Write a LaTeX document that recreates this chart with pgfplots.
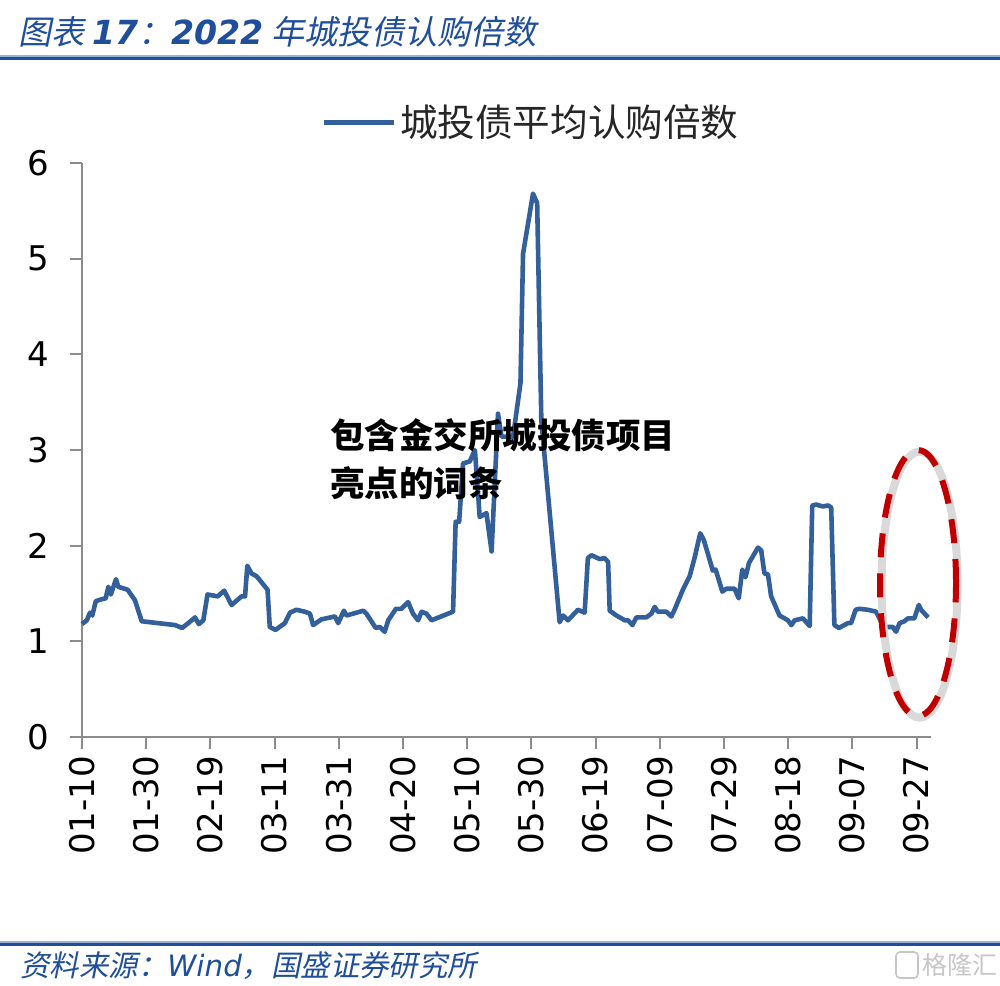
\documentclass[border=0pt]{standalone}
\usepackage{pgfplots}
\pgfplotsset{compat=1.18}
\usepackage{pgfplotstable}
\usepackage{fontspec}
\setmainfont{DejaVu Sans}
\newfontfamily\cjk{Noto Sans CJK SC}
\newfontfamily\cjkit{Noto Sans CJK SC}[FakeSlant=0.2]
\newfontfamily\dejavu{DejaVu Sans}
\definecolor{linebl}{HTML}{33609A}
\definecolor{titlebl}{HTML}{1F4E9A}
\definecolor{axgray}{HTML}{8C8C8C}
\definecolor{ellred}{HTML}{C00000}

% day 0 = 01-10
\pgfplotstableread{
day val
0 1.18
1.5 1.22
2.5 1.30
3.2 1.27
4.3 1.42
6.1 1.44
7.4 1.45
8.2 1.57
9.0 1.49
10.6 1.65
11.3 1.57
14.2 1.54
16.5 1.43
18.6 1.21
29.0 1.17
31.2 1.14
33.1 1.19
35.2 1.25
36.4 1.18
37.8 1.22
39.1 1.49
42.3 1.47
44.3 1.53
46.6 1.38
49.7 1.47
50.8 1.47
51.5 1.79
52.8 1.71
54.4 1.68
57.8 1.54
58.5 1.15
60.3 1.12
63.2 1.19
64.8 1.30
66.8 1.33
69.4 1.31
71.0 1.29
72.0 1.17
74.6 1.23
78.8 1.26
79.8 1.19
81.6 1.32
82.4 1.27
87.6 1.32
88.6 1.29
91.5 1.14
92.8 1.15
94.3 1.10
95.4 1.22
97.8 1.34
99.5 1.34
101.6 1.41
103.1 1.29
104.7 1.22
105.8 1.31
107.3 1.29
108.9 1.22
115.6 1.31
116.4 2.25
117.5 2.25
118.7 2.86
120.8 2.88
122.4 3.00
123.9 2.30
126.0 2.34
127.6 1.94
129.6 3.38
130.7 3.14
134.3 3.14
136.6 3.70
137.4 5.05
140.5 5.68
141.8 5.58
143.1 3.31
148.8 1.20
149.9 1.27
151.4 1.22
154.5 1.33
156.6 1.30
157.6 1.87
158.7 1.90
161.3 1.86
162.8 1.87
163.9 1.83
164.4 1.32
166.5 1.27
169.1 1.22
170.1 1.22
171.5 1.17
172.7 1.25
175.8 1.25
177.4 1.29
178.4 1.36
179.4 1.31
182.0 1.31
183.6 1.26
184.6 1.33
187.2 1.54
189.3 1.68
190.9 1.88
192.6 2.13
193.7 2.06
195.3 1.88
196.5 1.74
197.4 1.75
199.5 1.52
200.7 1.55
203.3 1.55
204.6 1.45
205.7 1.75
206.7 1.67
207.8 1.82
210.6 1.98
211.6 1.95
212.6 1.71
213.7 1.70
214.7 1.47
217.3 1.27
218.9 1.24
219.9 1.22
221.0 1.17
222.0 1.22
224.6 1.24
226.7 1.16
227.5 2.42
228.7 2.43
230.8 2.41
232.4 2.42
233.4 2.40
234.4 1.17
235.8 1.14
238.6 1.19
239.6 1.19
241.0 1.33
242.2 1.34
244.8 1.33
247.4 1.31
249.5 1.17
250.5 1.15
252.6 1.15
253.6 1.10
254.7 1.19
256.2 1.21
257.3 1.24
259.3 1.24
260.7 1.38
261.4 1.33
262.5 1.29
263.6 1.25
}\series

\begin{document}
\begin{tikzpicture}
\path[use as bounding box] (0,0) rectangle (500pt,-492.5pt);

% title
\node[anchor=west, text=titlebl, inner sep=0] at (9pt,-16pt)
  {\cjkit\fontsize{16.6pt}{16.6pt}\selectfont 图表 {\dejavu\bfseries\itshape 17}：{\dejavu\bfseries\itshape 2022} 年城投债认购倍数};
\draw[titlebl!45, line width=0.6pt] (0,-28pt) -- (500pt,-28pt);
\draw[titlebl, line width=1.5pt] (0,-29.3pt) -- (500pt,-29.3pt);

\begin{axis}[
  at={(41pt,-368.5pt)}, anchor=south west,
  scale only axis, width=424.5pt, height=287pt,
  xmin=0, xmax=264.5, ymin=0, ymax=6,
  axis x line*=bottom, axis y line*=left,
  axis line style={axgray, line width=1pt},
  tick style={axgray, line width=1pt},
  tick align=outside, major tick length=6pt,
  ytick={0,1,2,3,4,5,6},
  xtick={0,20,40,60,80,100,120,140,160,180,200,220,240,260},
  xticklabels={01-10,01-30,02-19,03-11,03-31,04-20,05-10,05-30,06-19,07-09,07-29,08-18,09-07,09-27},
  xticklabel style={rotate=90, anchor=east, font=\dejavu\fontsize{17pt}{17pt}\selectfont, text=black},
  yticklabel style={font=\dejavu\fontsize{17pt}{17pt}\selectfont, text=black, xshift=-7pt},
  /pgf/number format/assume math mode=true,
  clip=false,
  legend style={at={(0.53,1.071)}, anchor=center, draw=none, fill=none,
    font=\cjk\fontsize{18.8pt}{18.8pt}\selectfont, text=black!85},
  legend image code/.code={\draw[#1] (0pt,0pt) -- (35pt,0pt);},
]
\addplot[linebl, line width=2.3pt, line join=round] table[x=day,y=val] {\series};
\addlegendentry{城投债平均认购倍数}
\end{axis}

% overlay text
\node[anchor=north west, inner sep=0, align=left,
  font=\cjk\bfseries\fontsize{17.25pt}{24pt}\selectfont] at (165pt,-209pt)
  {包含金交所城投债项目\\亮点的词条};

% highlight ellipse
\draw[gray!30, line width=4pt] (459.8pt,-292.3pt) ellipse [x radius=19pt, y radius=66.5pt];
\draw[ellred, line width=3pt, dash pattern=on 12pt off 8pt] (459pt,-291.5pt) ellipse [x radius=19pt, y radius=66.5pt];

% footer
\draw[titlebl!45, line width=0.6pt] (0,-471pt) -- (500pt,-471pt);
\draw[titlebl, line width=1.5pt] (0,-472.3pt) -- (500pt,-472.3pt);
\node[anchor=west, text=titlebl, inner sep=0] at (10pt,-483pt)
  {\cjkit\fontsize{14.7pt}{14.7pt}\selectfont 资料来源：{\dejavu\itshape Wind}，国盛证券研究所};
\draw[gray!45, line width=0.8pt, rounded corners=2pt] (448pt,-476pt) rectangle (459pt,-489pt);
\node[anchor=west, text=gray!45, inner sep=0] at (461pt,-482.5pt)
  {\cjk\fontsize{12.5pt}{12.5pt}\selectfont 格隆汇};
\end{tikzpicture}
\end{document}
